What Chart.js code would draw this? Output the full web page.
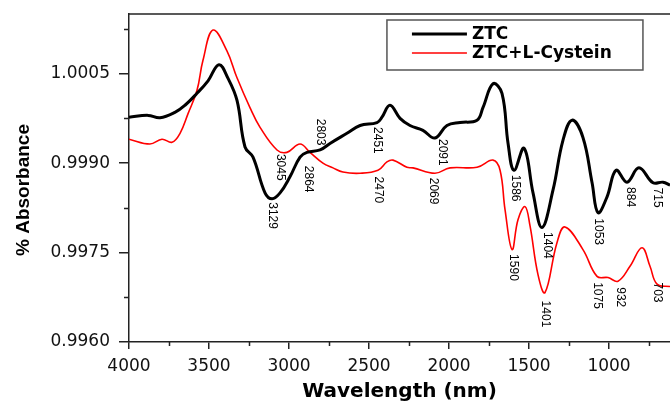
<!DOCTYPE html>
<html>
<head>
<meta charset="utf-8">
<title>ZTC FTIR</title>
<script src="https://cdn.jsdelivr.net/npm/chart.js@4.4.1/dist/chart.umd.min.js"></script>
<style>
    html, body { margin: 0; padding: 0; background: #ffffff; }
    canvas { display: block; }
</style>
</head>
<body>
<canvas id="spectrumChart" width="670" height="403"></canvas>
<script>
// --- Data ---
const ztcX = [4000, 3881, 3806, 3713, 3650, 3575, 3506, 3438, 3381, 3325, 3275, 3225, 3150, 3106, 3056, 2994, 2931, 2888, 2806, 2744,
    2638, 2556, 2450, 2419, 2369, 2306, 2244, 2163, 2088, 2013, 1931, 1825, 1788, 1725, 1669, 1631, 1594, 1531, 1475, 1419,
    1350, 1288, 1231, 1163, 1106, 1069, 1013, 956, 888, 813, 725, 663, 619];
const ztcY = [0.99977, 0.99980, 0.99976, 0.99985, 0.99997, 1.00017, 1.00038, 1.00065, 1.00042, 1.00005, 0.99927, 0.99910, 0.99850, 0.99840, 0.99850, 0.99877, 0.99910, 0.99918, 0.99922, 0.99933,
    0.99950, 0.99963, 0.99968, 0.99977, 0.99997, 0.99975, 0.99963, 0.99955, 0.99942, 0.99963, 0.99968, 0.99972, 0.99993, 1.00033, 1.00017, 0.99933, 0.99888, 0.99925, 0.99850, 0.99792,
    0.99855, 0.99938, 0.99972, 0.99943, 0.99867, 0.99817, 0.99843, 0.99888, 0.99868, 0.99892, 0.99867, 0.99868, 0.99863];

const cysX = [4000, 3869, 3794, 3731, 3681, 3631, 3575, 3538, 3475, 3388, 3325, 3244, 3181, 3075, 3013, 2931, 2869, 2788, 2725, 2663,
    2556, 2444, 2388, 2350, 2263, 2225, 2088, 1994, 1825, 1725, 1681, 1650, 1606, 1569, 1525, 1494, 1444, 1400, 1325, 1275,
    1163, 1075, 1006, 944, 869, 794, 744, 700, 619];
const cysY = [0.99940, 0.99932, 0.99940, 0.99935, 0.99950, 0.99983, 1.00022, 1.00072, 1.00123, 1.00088, 1.00043, 0.99993, 0.99960, 0.99922, 0.99918, 0.99932, 0.99918, 0.99900, 0.99892, 0.99885,
    0.99883, 0.99888, 0.99902, 0.99905, 0.99893, 0.99892, 0.99883, 0.99892, 0.99893, 0.99905, 0.99888, 0.99822, 0.99755, 0.99805, 0.99827, 0.99795, 0.99713, 0.99683, 0.99767, 0.99793,
    0.99755, 0.99710, 0.99708, 0.99702, 0.99727, 0.99758, 0.99727, 0.99697, 0.99693];

const seriesNames = ['ZTC', 'ZTC+L-Cystein'];

// peak annotations: text, and where it sits in data units
const peakText = ['3129', '3045', '2864', '2803', '2451', '2470', '2091', '2069', '1586', '1590', '1404', '1401', '1053', '1075', '932', '884', '715', '703'];
const peakX = [3106, 3056, 2881, 2806, 2450, 2444, 2044, 2100, 1588, 1600, 1388, 1400, 1069, 1075, 931, 869, 700, 700];
const peakY = [0.99812, 0.99893, 0.99873, 0.99952, 0.99938, 0.99855, 0.99918, 0.99853, 0.99858, 0.99725, 0.99762, 0.99647, 0.99785, 0.99678, 0.99675, 0.99843, 0.99842, 0.99683];

// --- Axis ticks ---
const xMajorTicks = [4000, 3500, 3000, 2500, 2000, 1500, 1000];
const xMinorTicks = [3750, 3250, 2750, 2250, 1750, 1250, 750];
const yMajorTicks = [0.9960, 0.9975, 0.9990, 1.0005];
const yMinorTicks = [0.99675, 0.99825, 0.99975, 1.00125];

const axisColor = '#222222';
const tickFont = { family: "'DejaVu Sans', sans-serif", size: 17 };

function toPoints(xs, ys) {
    return xs.map((x, i) => ({ x: x, y: ys[i] }));
}

// --- Extra drawing: frame top, minor ticks, y title, peak labels, legend ---
const decorations = {
    id: 'decorations',
    afterDraw(chart) {
        const ctx = chart.ctx;
        const area = chart.chartArea;
        const xs = chart.scales.x;
        const ys = chart.scales.y;

        ctx.save();
        ctx.strokeStyle = axisColor;
        ctx.lineWidth = 1.5;

        // top frame line
        ctx.beginPath();
        ctx.moveTo(area.left, area.top);
        ctx.lineTo(area.right, area.top);
        ctx.stroke();

        // minor ticks
        ctx.beginPath();
        xMinorTicks.forEach(v => {
            const px = Math.round(xs.getPixelForValue(v)) + 0.5;
            ctx.moveTo(px, area.bottom);
            ctx.lineTo(px, area.bottom + 4);
        });
        yMinorTicks.forEach(v => {
            const py = Math.round(ys.getPixelForValue(v)) + 0.5;
            ctx.moveTo(area.left, py);
            ctx.lineTo(area.left - 5, py);
        });
        ctx.stroke();

        // y axis title (sits a bit low in the original)
        ctx.fillStyle = '#000';
        ctx.font = "bold 19px 'Liberation Sans', Arial, sans-serif";
        ctx.textAlign = 'center';
        ctx.textBaseline = 'middle';
        ctx.translate(24, (area.top + area.bottom) / 2 + 12);
        ctx.rotate(-Math.PI / 2);
        ctx.fillText('% Absorbance', 0, 0);
        ctx.restore();

        // peak labels, rotated to read downwards
        ctx.save();
        ctx.fillStyle = '#000';
        ctx.font = "12px 'Liberation Sans', Arial, sans-serif";
        ctx.textAlign = 'center';
        ctx.textBaseline = 'middle';
        peakText.forEach((t, i) => {
            ctx.save();
            ctx.translate(xs.getPixelForValue(peakX[i]), ys.getPixelForValue(peakY[i]));
            ctx.rotate(Math.PI / 2);
            ctx.fillText(t, 0, 0);
            ctx.restore();
        });
        ctx.restore();

        // legend box inside the plot
        const boxLeft = xs.getPixelForValue(2388);
        const boxTop = area.top + 6;
        const boxW = 256, boxH = 50;
        ctx.save();
        ctx.fillStyle = '#fff';
        ctx.fillRect(boxLeft, boxTop, boxW, boxH);
        ctx.strokeStyle = '#555';
        ctx.lineWidth = 1.5;
        ctx.strokeRect(boxLeft, boxTop, boxW, boxH);
        ctx.font = "bold 17px 'DejaVu Sans', sans-serif";
        ctx.textAlign = 'left';
        ctx.textBaseline = 'middle';
        chart.data.datasets.forEach((ds, i) => {
            const rowY = boxTop + 14 + i * 19;
            ctx.strokeStyle = ds.borderColor;
            ctx.lineWidth = ds.borderWidth;
            ctx.beginPath();
            ctx.moveTo(boxLeft + 25, rowY);
            ctx.lineTo(boxLeft + 80, rowY);
            ctx.stroke();
            ctx.fillStyle = '#000';
            ctx.fillText(ds.label, boxLeft + 85, rowY + 1);
        });
        ctx.restore();
    }
};

// --- Chart Setup ---
const ctx = document.getElementById('spectrumChart').getContext('2d');
const spectrumChart = new Chart(ctx, {
    type: 'line',
    data: {
        datasets: [{
            label: seriesNames[0],
            data: toPoints(ztcX, ztcY),
            borderColor: '#000000',
            borderWidth: 3,
            pointRadius: 0,
            fill: false,
            tension: 0.4
        },
        {
            label: seriesNames[1],
            data: toPoints(cysX, cysY),
            borderColor: '#ff0000',
            borderWidth: 1.6,
            pointRadius: 0,
            fill: false,
            tension: 0.4
        }]
    },
    options: {
        responsive: false,
        animation: false,
        devicePixelRatio: 1,
        layout: { padding: { top: 14, right: 0, bottom: 0, left: 0 } },
        plugins: {
            legend: { display: false },
            tooltip: { enabled: false }
        },
        scales: {
            x: {
                type: 'linear',
                reverse: true,
                min: 619,
                max: 4000,
                afterBuildTicks: scale => { scale.ticks = xMajorTicks.map(v => ({ value: v })); },
                afterFit: scale => {
                    scale.height = 61;
                    scale.paddingLeft = 0;
                    scale.paddingRight = 0;
                },
                grid: { drawOnChartArea: false, tickLength: 7, color: axisColor, lineWidth: 1.5 },
                border: { color: axisColor, width: 1.5 },
                ticks: {
                    font: tickFont,
                    color: '#111',
                    padding: 7,
                    maxRotation: 0,
                    autoSkip: false,
                    callback: value => String(value)
                },
                title: {
                    display: true,
                    text: 'Wavelength (nm)',
                    color: '#000',
                    font: { family: "'DejaVu Sans', sans-serif", size: 20, weight: 'bold', lineHeight: 1 },
                    padding: { top: 0, bottom: 1 }
                }
            },
            y: {
                min: 0.9960,
                max: 1.0015,
                afterBuildTicks: scale => { scale.ticks = yMajorTicks.map(v => ({ value: v })); },
                afterFit: scale => {
                    scale.width = 129;
                    scale.paddingTop = 0;
                    scale.paddingBottom = 0;
                },
                grid: { drawOnChartArea: false, tickLength: 10, color: axisColor, lineWidth: 1.5 },
                border: { color: axisColor, width: 1.5 },
                ticks: {
                    font: tickFont,
                    color: '#111',
                    padding: 9,
                    callback: value => value.toFixed(4)
                }
            }
        }
    },
    plugins: [decorations]
});
</script>
</body>
</html>
